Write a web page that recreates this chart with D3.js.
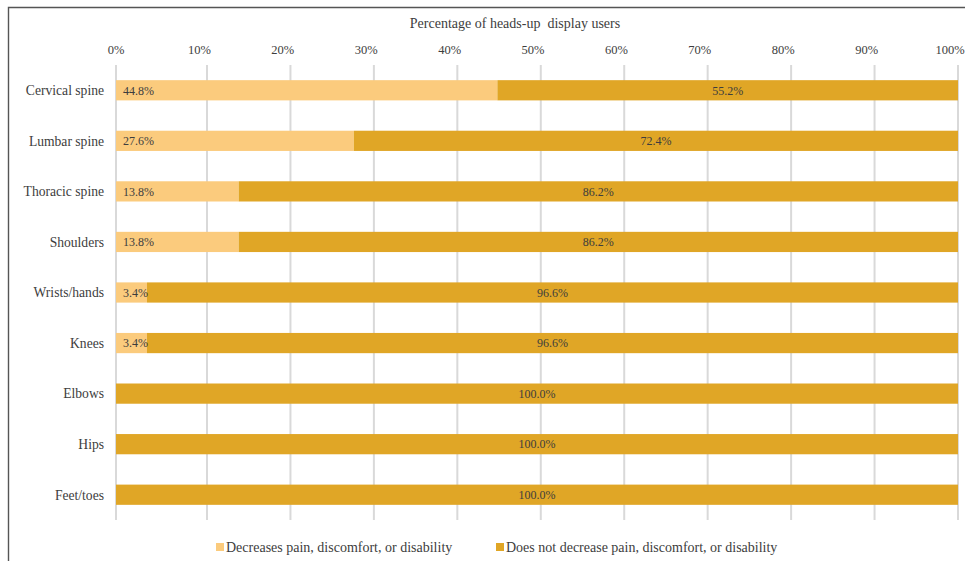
<!DOCTYPE html>
<html>
<head>
<meta charset="utf-8">
<script src="https://cdn.jsdelivr.net/npm/d3@7"></script>
<style>
  html, body { margin: 0; padding: 0; background: #fff; }
  svg text { font-family: 'Liberation Serif', Tinos, 'Times New Roman', Times, 'DejaVu Serif', serif; }
</style>
</head>
<body>
<svg id="chart" width="965" height="561"></svg>
<script>
// Body regions reported by heads-up display users
const categories = ["Cervical spine", "Lumbar spine", "Thoracic spine", "Shoulders",
  "Wrists/hands", "Knees", "Elbows", "Hips", "Feet/toes"];
// Share (%) for whom the display decreases pain, discomfort, or disability
const decreases = [44.8, 27.6, 13.8, 13.8, 3.4, 3.4, 0, 0, 0];
// Share (%) for whom it does not
const doesNotDecrease = [55.2, 72.4, 86.2, 86.2, 96.6, 96.6, 100.0, 100.0, 100.0];
const tickValues = [0, 10, 20, 30, 40, 50, 60, 70, 80, 90, 100];
const seriesNames = ["Decreases pain, discomfort, or disability",
  "Does not decrease pain, discomfort, or disability"];
const seriesColors = ["#fbcb7d", "#e0a626"];

const svg = d3.select("#chart");
const textColor = "#3d3d3d";
const serif = "'Liberation Serif', Tinos, 'Times New Roman', Times, 'DejaVu Serif', serif";

// Outer frame
svg.append("path")
  .attr("d", "M8.5,570 V7.5 H975")
  .attr("fill", "none")
  .attr("stroke", "#555")
  .attr("stroke-width", 1.4);

const x = d3.scaleLinear().domain([0, 10, 100]).range([116, 207, 958]);
const xLabel = d3.scaleLinear().domain([0, 100]).range([116, 950]);
const y = d3.scaleBand().domain(categories).range([65, 520])
  .paddingInner(0.6).paddingOuter(0.3);

// Title
svg.append("text")
  .attr("x", 515).attr("y", 28)
  .attr("text-anchor", "middle")
  .attr("font-family", serif)
  .attr("font-size", 14)
  .attr("fill", textColor)
  .attr("xml:space", "preserve")
  .text("Percentage of heads-up  display users");

// Gridlines
svg.append("g").selectAll("line").data(tickValues).join("line")
  .attr("x1", d => x(d)).attr("x2", d => x(d))
  .attr("y1", 65).attr("y2", 520)
  .attr("stroke", "#d9d9d9")
  .attr("stroke-width", 2);

// Tick labels
svg.append("g").selectAll("text").data(tickValues).join("text")
  .attr("x", d => xLabel(d)).attr("y", 54)
  .attr("text-anchor", "middle")
  .attr("font-family", serif)
  .attr("font-size", 12.5)
  .attr("fill", textColor)
  .text(d => d + "%");

// Category labels
svg.append("g").selectAll("text").data(categories).join("text")
  .attr("x", 104)
  .attr("y", d => y(d) + y.bandwidth() / 2 + 4.8)
  .attr("text-anchor", "end")
  .attr("font-family", serif)
  .attr("font-size", 13.6)
  .attr("fill", textColor)
  .text(d => d);

// Stacked bars
const rows = categories.map((c, i) => ({
  cat: c,
  segs: [
    { s: 0, v0: 0, v1: decreases[i], val: decreases[i] },
    { s: 1, v0: decreases[i], v1: decreases[i] + doesNotDecrease[i], val: doesNotDecrease[i] }
  ]
}));

const rowG = svg.append("g").selectAll("g").data(rows).join("g");

rowG.selectAll("rect").data(d => d.segs.filter(s => s.val > 0).map(s => ({ ...s, cat: d.cat })))
  .join("rect")
  .attr("x", d => x(d.v0))
  .attr("y", d => y(d.cat))
  .attr("width", d => x(d.v1) - x(d.v0))
  .attr("height", y.bandwidth())
  .attr("fill", d => seriesColors[d.s]);

rowG.selectAll("text").data(d => d.segs.filter(s => s.val > 0).map(s => ({ ...s, cat: d.cat })))
  .join("text")
  .attr("x", d => d.s === 0 ? x(d.v0) + 7 : (x(d.v0) + x(d.v1)) / 2)
  .attr("y", d => y(d.cat) + y.bandwidth() / 2 + 4.3)
  .attr("text-anchor", d => d.s === 0 ? "start" : "middle")
  .attr("font-family", serif)
  .attr("font-size", 12)
  .attr("fill", textColor)
  .text(d => d.val.toFixed(1) + "%");

// Legend
const legendX = [216, 496];
const lg = svg.append("g").selectAll("g").data(seriesNames).join("g")
  .attr("transform", (d, i) => `translate(${legendX[i]},543)`);
lg.append("rect")
  .attr("width", 8).attr("height", 8)
  .attr("fill", (d, i) => seriesColors[i]);
lg.append("text")
  .attr("x", 10).attr("y", 8.5)
  .attr("font-family", serif)
  .attr("font-size", 14)
  .attr("fill", textColor)
  .text(d => d);
</script>
</body>
</html>
